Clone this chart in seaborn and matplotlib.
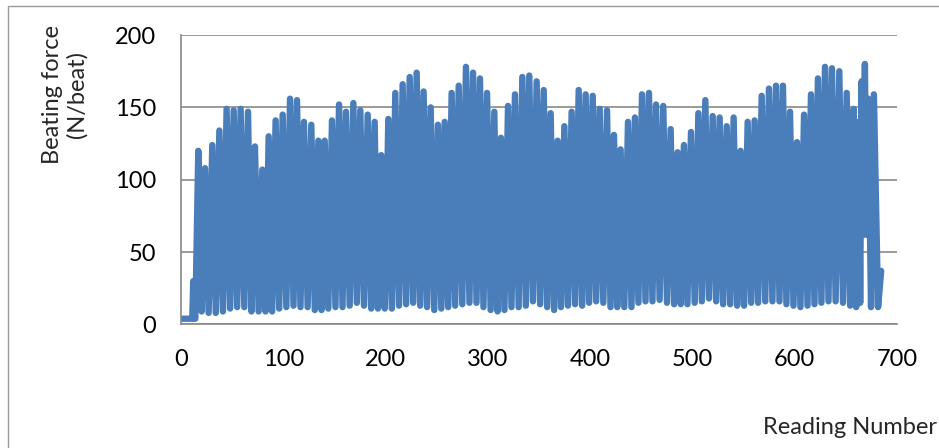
import numpy as np
import pandas as pd
import matplotlib
matplotlib.use("Agg")
import matplotlib.pyplot as plt
import seaborn as sns
from matplotlib.patches import Rectangle

# flat start before the beats begin
start_reading = [0, 11, 12, 13, 14]
start_force = [4, 4, 30, 4, 4]

# top of each beat
peak_reading = [16.9, 23.5, 30.6, 37.5, 44.6, 51.5, 58.3, 65.5, 72.3, 79.5,
                85.7, 92.5, 99.4, 106.6, 113.4, 120.2, 127.4, 134.3, 140.5, 147.6,
                154.5, 161.3, 168.5, 175.3, 182.5, 189.3, 195.8, 202.7, 209.5, 216.7,
                223.6, 230.4, 237.2, 244.1, 251.2, 257.8, 264.6, 271.5, 278.6, 285.5,
                292.3, 299.2, 306.3, 312.8, 319.7, 326.5, 333.7, 340.5, 347.7, 354.6,
                361.4, 368.2, 374.8, 381.9, 388.8, 395.6, 402.5, 409.3, 416.5, 423.3,
                429.8, 437.0, 443.8, 450.7, 457.5, 464.4, 471.5, 478.7, 485.5, 491.7,
                498.6, 505.8, 512.6, 519.8, 526.6, 533.5, 540.3, 547.1, 554.0, 560.8,
                567.7, 574.8, 581.7, 588.5, 595.4, 602.2, 609.1, 615.9, 622.7, 629.6,
                636.4, 643.6, 650.8, 657.6, 662.7, 665.4, 668.6, 671.8, 677.4]
peak_force = [120, 108, 124, 134, 149, 148, 149, 147, 123, 107,
              130, 141, 145, 156, 155, 140, 138, 127, 127, 141,
              152, 147, 153, 148, 145, 140, 117, 142, 160, 166,
              171, 174, 161, 150, 138, 140, 160, 165, 178, 174,
              170, 160, 147, 129, 151, 159, 171, 172, 168, 162,
              146, 127, 137, 147, 162, 159, 158, 149, 148, 131,
              121, 140, 143, 159, 160, 152, 151, 135, 119, 124,
              133, 146, 155, 144, 143, 137, 143, 120, 140, 141,
              158, 163, 165, 165, 147, 126, 145, 159, 170, 178,
              177, 175, 160, 149, 140, 168, 180, 156, 159]

# bottom between beats
trough_reading = [20.2, 27.0, 34.0, 41.0, 48.0, 54.9, 61.9, 68.9, 75.9, 82.6,
                  89.1, 96.0, 103.0, 110.0, 116.8, 123.8, 130.8, 137.4, 144.0, 151.0,
                  157.9, 164.9, 171.9, 178.9, 185.9, 192.5, 199.2, 206.1, 213.1, 220.1,
                  227.0, 233.8, 240.6, 247.6, 254.5, 261.2, 268.0, 275.0, 282.0, 288.9,
                  295.7, 302.7, 309.5, 316.2, 323.1, 330.1, 337.1, 344.1, 351.1, 358.0,
                  364.8, 371.5, 378.3, 385.3, 392.2, 399.0, 405.9, 412.9, 419.9, 426.5,
                  433.4, 440.4, 447.2, 454.1, 460.9, 467.9, 475.1, 482.1, 488.6, 495.1,
                  502.2, 509.2, 516.2, 523.2, 530.0, 536.9, 543.7, 550.5, 557.4, 564.2,
                  571.2, 578.2, 585.1, 591.9, 598.8, 605.6, 612.5, 619.3, 626.1, 633.0,
                  640.0, 647.2, 654.2, 660.1, 664.0, 667.0, 670.2, 674.6, 681.5]
trough_force = [9, 8, 8, 9, 11, 12, 12, 9, 9, 9,
                9, 11, 12, 13, 12, 12, 10, 10, 11, 12,
                12, 13, 15, 13, 11, 11, 11, 11, 13, 14,
                15, 13, 12, 10, 11, 12, 13, 14, 15, 15,
                12, 10, 9, 10, 12, 12, 13, 16, 14, 12,
                10, 12, 13, 14, 13, 15, 16, 15, 12, 12,
                12, 12, 15, 16, 16, 17, 15, 14, 14, 14,
                15, 16, 18, 16, 14, 14, 13, 13, 15, 15,
                16, 16, 16, 14, 13, 12, 13, 14, 15, 16,
                16, 15, 13, 12, 15, 62, 62, 12, 12]

end_reading = [684.5]
end_force = [37]

df = pd.DataFrame({
    "reading": np.concatenate([start_reading, peak_reading, trough_reading, end_reading]),
    "force": np.concatenate([start_force, peak_force, trough_force, end_force]),
}).sort_values("reading")

sns.set_theme(style="white")
plt.rcParams["font.family"] = ["Lato", "DejaVu Sans"]

fig = plt.figure(figsize=(9.39, 4.48), dpi=100)
ax = fig.add_axes([181 / 939, 1 - 324.5 / 448, 716 / 939, 289.5 / 448])

sns.lineplot(data=df, x="reading", y="force", ax=ax, color="#4A7EBB",
             linewidth=4.6, estimator=None, sort=False)
ax.lines[0].set_solid_capstyle("round")
ax.lines[0].set_solid_joinstyle("round")

ax.set_xlim(0, 700)
ax.set_ylim(0, 200)
ax.set_xticks(range(0, 701, 100))
ax.set_yticks(range(0, 201, 50))
ax.grid(axis="y", color="#898989", linewidth=1.2)
ax.set_axisbelow(True)
for side in ["top", "right"]:
    ax.spines[side].set_visible(False)
for side in ["left", "bottom"]:
    ax.spines[side].set_color("#898989")
    ax.spines[side].set_linewidth(1.2)
ax.tick_params(axis="both", length=0, labelsize=17, colors="black")
ax.tick_params(axis="x", pad=18)
ax.tick_params(axis="y", pad=18)
ax.set_xlabel("")
ax.set_ylabel("")

fig.text(65 / 939, 1 - 95 / 448, "Beating force\n(N/beat)", rotation=90,
         ha="center", va="center", multialignment="center", fontsize=17,
         linespacing=1.2)
fig.text(937 / 939, 1 - 434 / 448, "Reading Number", ha="right",
         va="baseline", fontsize=17)

# chart area border
fig.patches.append(Rectangle((8 / 939, -0.5), 2, 1.5 - 6 / 448,
                             transform=fig.transFigure, fill=False,
                             edgecolor="#9A9A9A", linewidth=1.0))

fig.savefig("out.png", dpi=100)
